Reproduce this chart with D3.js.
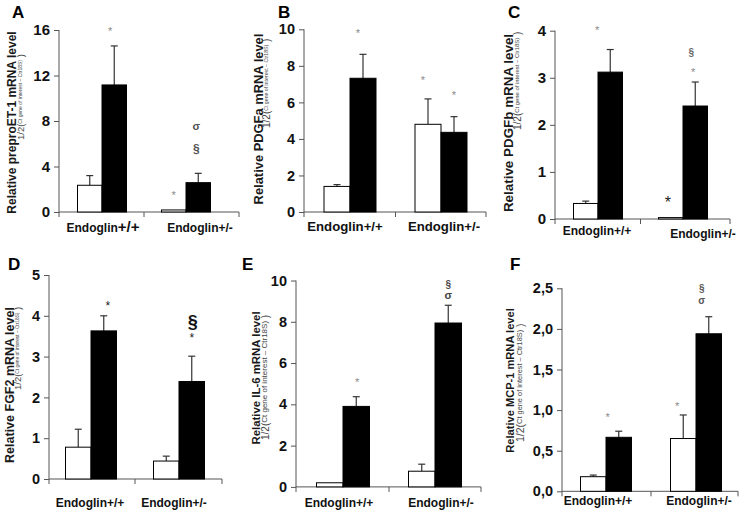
<!DOCTYPE html>
<html><head><meta charset="utf-8">
<script src="https://cdn.jsdelivr.net/npm/d3@7"></script>
<style>html,body{margin:0;padding:0;background:#fff;}svg{display:block;}</style>
</head><body>
<script>
// ---------------- DATA ----------------
const groups = ["Endoglin+/+", "Endoglin+/-"];
const seriesKeys = ["open", "filled"];
const panelLetters = ["A", "B", "C", "D", "E", "F"];
const yLabels = [
  "Relative preproET-1 mRNA level",
  "Relative PDGFa mRNA level",
  "Relative PDGFb mRNA level",
  "Relative FGF2 mRNA level",
  "Relative IL-6 mRNA level",
  "Relative MCP-1 mRNA level"
];
const yMax = [16, 10, 4, 5, 10, 2.5];
const yTicks = [
  [0, 4, 8, 12, 16],
  [0, 2, 4, 6, 8, 10],
  [0, 1, 2, 3, 4],
  [0, 1, 2, 3, 4, 5],
  [0, 2, 4, 6, 8, 10],
  [0, 0.5, 1, 1.5, 2, 2.5]
];
const openVals   = [[2.35, 0.18], [1.4, 4.8], [0.33, 0.03], [0.78, 0.44], [0.2, 0.76], [0.18, 0.65]];
const openErr    = [[0.85, 0],    [0.1, 1.39], [0.05, 0],   [0.44, 0.12], [0, 0.34],  [0.02, 0.29]];
const filledVals = [[11.17, 2.58], [7.32, 4.36], [3.12, 2.4], [3.63, 2.39], [3.9, 7.94], [0.665, 1.94]];
const filledErr  = [[3.43, 0.82], [1.31, 0.86], [0.48, 0.51], [0.37, 0.62], [0.47, 0.86], [0.075, 0.21]];
// significance marks: [group index, series index, symbol, value at glyph centre]
const marks = [
  [[0, 1, "*", 16.1], [1, 0, "*", 1.67], [1, 1, "σ", 7.47], [1, 1, "§", 5.45]],
  [[0, 1, "*", 9.9], [1, 0, "*", 7.33], [1, 1, "*", 6.51]],
  [[0, 1, "*", 4.06], [1, 1, "§", 3.52], [1, 1, "*", 3.16], [1, 0, "*", 0.42]],
  [[0, 1, "*", 4.31], [1, 1, "§", 3.82], [1, 1, "*", 3.53]],
  [[0, 1, "*", 5.18], [1, 1, "§", 9.76], [1, 1, "σ", 9.25]],
  [[0, 1, "*", 0.94], [1, 0, "*", 1.08], [1, 1, "§", 2.49], [1, 1, "σ", 2.34]]
];

// ---------------- LAYOUT / STYLE ----------------
const FONT = "'Liberation Sans', Arial, Helvetica, sans-serif";
const layout = [
  {ax: 59,  xEnd: 239, band: [60, 228],    y0: 212,   yTop: 30,    barW: 24.5, letter: [12, 18], tick: 15,
   lab1: [12, 122.5, 12],  lab2: [21, 140, 9.5, 5.0], xl: [[1, 232], [14, 232]], xlSize: 12, bigPlus: true},
  {ax: 304, xEnd: 486, band: [304.5, 486.5], y0: 212,  yTop: 29.3,  barW: 26, letter: [278, 18], tick: 14.5,
   lab1: [258, 119, 12.9], lab2: [266, 128, 10, 5.2], xl: [[-5, 231], [3, 231]], xlSize: 13.2},
  {ax: 555, xEnd: 730, band: [555.5, 725.5], y0: 219,  yTop: 30.7,  barW: 24.5, letter: [508, 18], tick: 15,
   lab1: [508, 123, 13.4], lab2: [517, 130, 10, 5.9], xl: [[-1, 235], [20, 238]], xlSize: 12},
  {ax: 49,  xEnd: 222, band: [47, 223],    y0: 479,   yTop: 275,   barW: 25.5, letter: [8, 270], tick: 14.5,
   lab1: [10, 385, 12.5],  lab2: [18, 390, 9.5, 4.8], xl: [[-1, 507], [-5, 507]], xlSize: 12},
  {ax: 296, xEnd: 481, band: [297, 481],   y0: 486.9, yTop: 280.5, barW: 26.5, letter: [242, 270], tick: 14.5,
   lab1: [256, 378, 11.4], lab2: [265.5, 440, 10, 8.0], xl: [[-4, 507], [6, 507]], xlSize: 12},
  {ax: 562, xEnd: 738, band: [561, 741],   y0: 491.3, yTop: 288.3, barW: 25.5, letter: [510, 270], tick: 14.5,
   lab1: [510, 380.5, 11.1], lab2: [520, 442, 10.5, 7.4], xl: [[-8, 505], [3, 505]], xlSize: 12}
];
const grayStar = {size: 11, color: "#8a8a8a", weight: "normal", dx: 0};
const markStyle = [
  [{...grayStar, dx: -4}, {...grayStar}, {size: 11, color: "#555", weight: "bold", dx: -2}, {size: 12, color: "#555", weight: "bold", dx: -2}],
  [{...grayStar, dx: -5}, {...grayStar, dx: -5}, {...grayStar}],
  [{...grayStar, dx: -13}, {size: 10, color: "#666", weight: "bold", dx: -4}, {...grayStar, dx: -2}, {size: 16, color: "#222", weight: "normal", dx: -3}],
  [{size: 12, color: "#222", weight: "normal", dx: 4}, {size: 18, color: "#111", weight: "bold", dx: 1}, {size: 12, color: "#222", weight: "normal", dx: 0}],
  [{...grayStar, dx: 1}, {size: 10, color: "#444", weight: "bold", dx: 0}, {size: 11, color: "#444", weight: "bold", dx: 0}],
  [{...grayStar, dx: -11}, {...grayStar, dx: -6}, {size: 10, color: "#555", weight: "bold", dx: -7}, {size: 10, color: "#555", weight: "bold", dx: -7}]
];
const AXIS = "#555";

const commaFmt = d3.formatLocale({decimal: ",", thousands: ".", grouping: [3], currency: ["", ""]}).format(".1f");

const svg = d3.select("body").append("svg")
  .attr("width", 745).attr("height", 517)
  .style("font-family", FONT);

layout.forEach((L, p) => {
  const g = svg.append("g");
  const y = d3.scaleLinear().domain([0, yMax[p]]).range([L.y0, L.yTop]);
  const x = d3.scaleBand().domain(groups).range(L.band).padding(0);
  const xs = d3.scaleBand().domain(seriesKeys).range([-L.barW, L.barW]).padding(0);
  const cx = gi => x(groups[gi]) + x.bandwidth() / 2;

  // y axis
  const yAxis = d3.axisLeft(y).tickValues(yTicks[p]).tickSize(5).tickSizeOuter(0).tickPadding(4)
    .tickFormat(p === 5 ? commaFmt : d3.format("d"));
  const ya = g.append("g").attr("transform", `translate(${L.ax},0)`).call(yAxis);
  ya.select(".domain").attr("stroke", AXIS).attr("d", `M0,${L.y0 + 5}V${L.yTop}`);
  ya.selectAll(".tick line").attr("stroke", AXIS);
  ya.selectAll(".tick text").attr("fill", "#111").style("font-size", L.tick + "px").style("font-weight", "bold")
    .style("font-family", FONT);

  // x axis
  g.append("line").attr("x1", L.ax).attr("x2", L.xEnd).attr("y1", L.y0).attr("y2", L.y0)
    .attr("stroke", AXIS).attr("stroke-width", 1);
  const xt = [L.band[0] + x.bandwidth(), L.xEnd];
  g.selectAll(".xt").data(xt).join("line")
    .attr("x1", d => d).attr("x2", d => d).attr("y1", L.y0).attr("y2", L.y0 + 5)
    .attr("stroke", AXIS);

  // bars
  const data = [];
  groups.forEach((gr, gi) => {
    data.push({gi, s: "open", v: openVals[p][gi], e: openErr[p][gi]});
    data.push({gi, s: "filled", v: filledVals[p][gi], e: filledErr[p][gi]});
  });
  const eb = data.filter(d => d.e > 0);
  g.selectAll(".eline").data(eb).join("line")
    .attr("x1", d => cx(d.gi) + xs(d.s) + xs.bandwidth() / 2)
    .attr("x2", d => cx(d.gi) + xs(d.s) + xs.bandwidth() / 2)
    .attr("y1", d => y(d.v)).attr("y2", d => y(d.v + d.e))
    .attr("stroke", "#333").attr("stroke-width", 1.2);
  g.selectAll(".ecap").data(eb).join("line")
    .attr("x1", d => cx(d.gi) + xs(d.s) + xs.bandwidth() / 2 - 3.5)
    .attr("x2", d => cx(d.gi) + xs(d.s) + xs.bandwidth() / 2 + 3.5)
    .attr("y1", d => y(d.v + d.e)).attr("y2", d => y(d.v + d.e))
    .attr("stroke", "#333").attr("stroke-width", 1.2);
  g.selectAll(".bar").data(data).join("rect")
    .attr("x", d => cx(d.gi) + xs(d.s))
    .attr("width", xs.bandwidth())
    .attr("y", d => y(d.v))
    .attr("height", d => Math.max(0.5, y(0) - y(d.v)))
    .attr("fill", d => d.s === "open" ? "#fff" : "#000")
    .attr("stroke", "#000").attr("stroke-width", 1);

  // significance marks
  marks[p].forEach((m, i) => {
    const st = markStyle[p][i];
    const [gi, si, sym, val] = m;
    const bx = cx(gi) + xs(seriesKeys[si]) + xs.bandwidth() / 2 + st.dx;
    const off = sym === "*" ? 0.55 : 0.27;
    g.append("text").attr("x", bx).attr("y", y(val) + off * st.size)
      .attr("text-anchor", "middle").attr("fill", st.color)
      .style("font-size", st.size + "px").style("font-weight", st.weight)
      .text(sym);
  });

  // x labels
  groups.forEach((gr, gi) => {
    const t = g.append("text").attr("x", cx(gi) + L.xl[gi][0]).attr("y", L.xl[gi][1])
      .attr("text-anchor", "middle").attr("fill", "#111")
      .style("font-size", L.xlSize + "px").style("font-weight", "bold");
    if (L.bigPlus && gi === 0) {
      t.append("tspan").text(gr.slice(0, 8));
      t.append("tspan").style("font-size", "15px").style("font-weight", "900").text(gr.slice(8));
    } else {
      t.text(gr);
    }
  });

  // y label line 1
  g.append("text")
    .attr("transform", `translate(${L.lab1[0]},${L.lab1[1]}) rotate(-90)`)
    .attr("text-anchor", "middle").attr("dy", "0.35em")
    .attr("fill", "#1a1a1a")
    .style("font-size", L.lab1[2] + "px").style("font-weight", "bold")
    .text(yLabels[p]);
  // y label line 2
  const t2 = g.append("text")
    .attr("transform", `translate(${L.lab2[0]},${L.lab2[1]}) rotate(-90)`)
    .attr("text-anchor", "start").attr("dy", "0.35em")
    .attr("fill", "#444")
    .style("font-size", L.lab2[2] + "px");
  t2.append("tspan").text("1/2(");
  t2.append("tspan").style("font-size", L.lab2[3] + "px").attr("dy", -L.lab2[2] * 0.2)
    .text("Ct gene of interest \u2013 Ctr18S)");
  t2.append("tspan").attr("dy", L.lab2[2] * 0.2).text(" )");

  // panel letter
  g.append("text").attr("x", L.letter[0]).attr("y", L.letter[1])
    .attr("fill", "#000").style("font-size", "17px").style("font-weight", "bold")
    .text(panelLetters[p]);
});
</script>
</body></html>
